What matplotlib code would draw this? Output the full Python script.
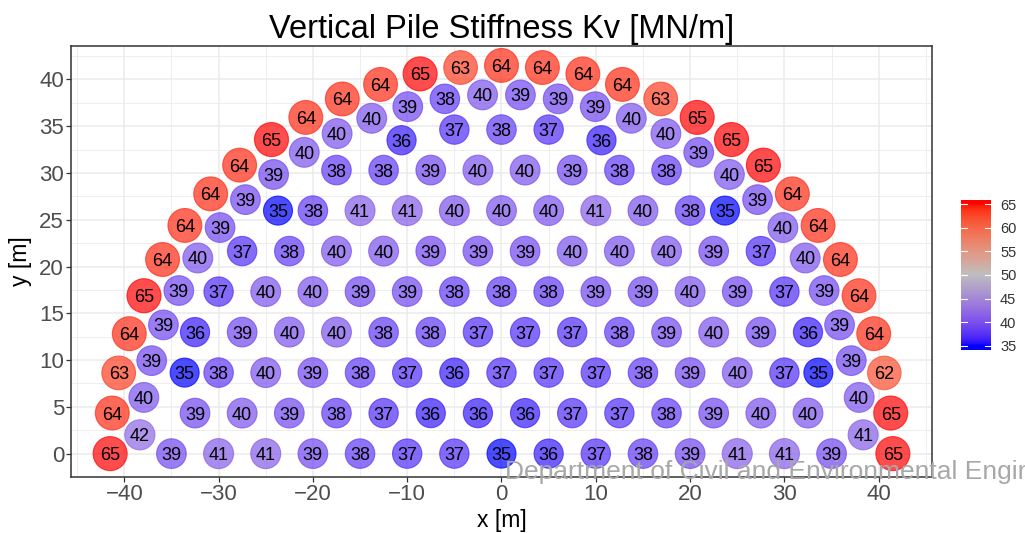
import numpy as np
import matplotlib.pyplot as plt
from matplotlib.colors import ListedColormap, Normalize

plt.rcParams['font.family'] = ['Liberation Sans', 'DejaVu Sans']

# outer ring of piles (radius 41.5 m), angle in degrees from +x axis
outer_r = 41.5
outer_deg = [180, 174, 168, 162, 156, 150, 144, 138, 132, 126, 120, 114, 108, 102, 96, 90,
             84, 78, 72, 66, 60, 54, 48, 42, 36, 30, 24, 18, 12, 6, 0]
outer_kv = [65, 64, 63, 64, 65, 64, 64, 64, 64, 65, 64, 64, 64, 65, 63, 64,
            64, 64, 64, 63, 65, 65, 65, 64, 64, 64, 64, 64, 62, 65, 65]

# inner ring (radius 38.4 m)
inner_r = 38.4
inner_deg = [177, 171, 165, 159, 153, 147, 141, 135, 129, 123, 117, 111, 105, 99, 93,
             87, 81, 75, 69, 63, 57, 51, 45, 39, 33, 27, 21, 15, 9, 3]
inner_kv = [42, 40, 39, 39, 39, 40, 39, 39, 39, 40, 40, 40, 39, 38, 40,
            39, 39, 39, 40, 40, 39, 40, 39, 40, 40, 39, 39, 39, 40, 41]

# interior grid rows
row_y = [0.0, 4.33, 8.66, 12.99, 17.32, 21.65, 25.98, 30.31, 34.64]
row_x = [
    [-35, -30, -25, -20, -15, -10, -5, 0, 5, 10, 15, 20, 25, 30, 35],
    [-32.5, -27.5, -22.5, -17.5, -12.5, -7.5, -2.5, 2.5, 7.5, 12.5, 17.5, 22.5, 27.5, 32.5],
    [-30, -25, -20, -15, -10, -5, 0, 5, 10, 15, 20, 25, 30],
    [-32.5, -27.5, -22.5, -17.5, -12.5, -7.5, -2.5, 2.5, 7.5, 12.5, 17.5, 22.5, 27.5, 32.5],
    [-30, -25, -20, -15, -10, -5, 0, 5, 10, 15, 20, 25, 30],
    [-27.5, -22.5, -17.5, -12.5, -7.5, -2.5, 2.5, 7.5, 12.5, 17.5, 22.5, 27.5],
    [-20, -15, -10, -5, 0, 5, 10, 15, 20],
    [-17.5, -12.5, -7.5, -2.5, 2.5, 7.5, 12.5, 17.5],
    [-5, 0, 5],
]
row_kv = [
    [39, 41, 41, 39, 38, 37, 37, 35, 36, 37, 38, 39, 41, 41, 39],
    [39, 40, 39, 38, 37, 36, 36, 36, 37, 37, 38, 39, 40, 40],
    [38, 40, 39, 38, 37, 36, 37, 37, 37, 38, 39, 40, 37],
    [36, 39, 40, 40, 38, 38, 37, 37, 37, 38, 39, 40, 39, 36],
    [37, 40, 40, 39, 39, 38, 38, 38, 39, 39, 40, 39, 37],
    [37, 38, 40, 40, 39, 39, 39, 40, 40, 40, 39, 37],
    [38, 41, 41, 40, 40, 40, 41, 40, 38],
    [38, 38, 39, 40, 40, 39, 38, 38],
    [37, 38, 37],
]

# odd piles off the grid
extra_x = [-33.6, 33.6, -23.7, 23.7, -10.6, 10.6]
extra_y = [8.66, 8.66, 25.98, 25.98, 33.5, 33.5]
extra_kv = [35, 35, 35, 35, 36, 36]

cbar_ticks = [35, 40, 45, 50, 55, 60, 65]


# ggplot-like gradient2 (blue - grey - red) interpolated in Lab space
M = np.array([[0.4124, 0.3576, 0.1805], [0.2126, 0.7152, 0.0722], [0.0193, 0.1192, 0.9505]])
WHITE = np.array([0.95047, 1.0, 1.08883])

def to_lab(rgb):
    c = np.asarray(rgb, float) / 255
    c = np.where(c > 0.04045, ((c + 0.055) / 1.055) ** 2.4, c / 12.92)
    xyz = M @ c / WHITE
    f = np.where(xyz > 0.008856, np.cbrt(xyz), 7.787 * xyz + 16 / 116)
    return np.array([116 * f[1] - 16, 500 * (f[0] - f[1]), 200 * (f[1] - f[2])])

def from_lab(lab):
    fy = (lab[0] + 16) / 116
    f = np.array([fy + lab[1] / 500, fy, fy - lab[2] / 200])
    xyz = np.where(f ** 3 > 0.008856, f ** 3, (f - 16 / 116) / 7.787) * WHITE
    c = np.linalg.inv(M) @ xyz
    c = np.where(c > 0.0031308, 1.055 * np.abs(c) ** (1 / 2.4) - 0.055, 12.92 * c)
    return np.clip(c, 0, 1)

low, mid, high = to_lab((0, 0, 255)), to_lab((190, 190, 190)), to_lab((255, 0, 0))
cols = []
for t in np.linspace(0, 1, 256):
    if t <= 0.5:
        cols.append(from_lab(low + (mid - low) * t * 2))
    else:
        cols.append(from_lab(mid + (high - mid) * (t - 0.5) * 2))
cmap = ListedColormap(cols)
norm = Normalize(35, 65)

# collect all piles
xs, ys, kvs = [], [], []
for d, k in zip(outer_deg, outer_kv):
    xs.append(outer_r * np.cos(np.radians(d)))
    ys.append(outer_r * np.sin(np.radians(d)))
    kvs.append(k)
for d, k in zip(inner_deg, inner_kv):
    xs.append(inner_r * np.cos(np.radians(d)))
    ys.append(inner_r * np.sin(np.radians(d)))
    kvs.append(k)
for y, rx, rk in zip(row_y, row_x, row_kv):
    xs += rx
    ys += [y] * len(rx)
    kvs += rk
xs += extra_x
ys += extra_y
kvs += extra_kv
xs, ys, kvs = np.array(xs), np.array(ys), np.array(kvs)

fig = plt.figure(figsize=(10.25, 5.33), dpi=100)
ax = fig.add_axes([71 / 1025, 1 - 477 / 533, 861 / 1025, 431 / 533])

diam = (29 + (kvs - 35) / 30 * 5) * 0.72  # px -> pt
ax.scatter(xs, ys, s=diam ** 2, c=kvs, cmap=cmap, norm=norm, alpha=0.7,
           edgecolors='face', linewidths=0.8, zorder=3)
for x, y, k in zip(xs, ys, kvs):
    ax.text(x, y, str(k), ha='center', va='center_baseline', fontsize=13, zorder=4)

ax.set_xlim(-45.65, 45.65)
ax.set_ylim(-2.075, 43.575)
ax.set_xticks(np.arange(-40, 41, 10))
ax.set_yticks(np.arange(0, 41, 5))
ax.set_xticks(np.arange(-45, 46, 5), minor=True)
ax.set_yticks(np.arange(-2.5, 43, 2.5), minor=True)
ax.grid(which='major', color='#EBEBEB', lw=1.1)
ax.grid(which='minor', color='#EBEBEB', lw=0.6)
ax.set_axisbelow(True)
ax.tick_params(which='major', length=3.5, width=0.9, color='#333333',
               labelsize=16, labelcolor='#4D4D4D', pad=1.5)
ax.tick_params(which='minor', length=0)
for sp in ax.spines.values():
    sp.set_color('#333333')
    sp.set_linewidth(1.1)

fig.text(501.5 / 1025, 1 - 520 / 533, 'x [m]', ha='center', va='center', fontsize=16.5)
fig.text(20 / 1025, 1 - 261.5 / 533, 'y [m]', ha='center', va='center', fontsize=16.5,
         rotation=90)
fig.text(501.5 / 1025, 1 - 38 / 533, 'Vertical Pile Stiffness Kv [MN/m]', ha='center',
         va='baseline', fontsize=23.5)

# colour bar
cax = fig.add_axes([961 / 1025, 1 - 350 / 533, 30 / 1025, 150 / 533])
grad = np.linspace(34.1, 65.9, 300)[:, None]
cax.imshow(grad, aspect='auto', origin='lower', extent=[0, 1, 34.1, 65.9], cmap=cmap, norm=norm)
cax.set_xlim(0, 1)
cax.set_ylim(34.1, 65.9)
for t in cbar_ticks:
    cax.plot([0, 0.2], [t, t], color='white', lw=0.8)
    cax.plot([0.8, 1], [t, t], color='white', lw=0.8)
cax.set_xticks([])
cax.yaxis.tick_right()
cax.set_yticks(cbar_ticks)
cax.tick_params(length=0, labelsize=10.5, labelcolor='#333333', pad=6.5)
for sp in cax.spines.values():
    sp.set_visible(False)

fig.text(505 / 1025, 1 - 472 / 533, 'Department of Civil and Environmental Engineering',
         ha='left', va='center', fontsize=19, color='#A8A8A8')

fig.savefig('out.png', dpi=100)
